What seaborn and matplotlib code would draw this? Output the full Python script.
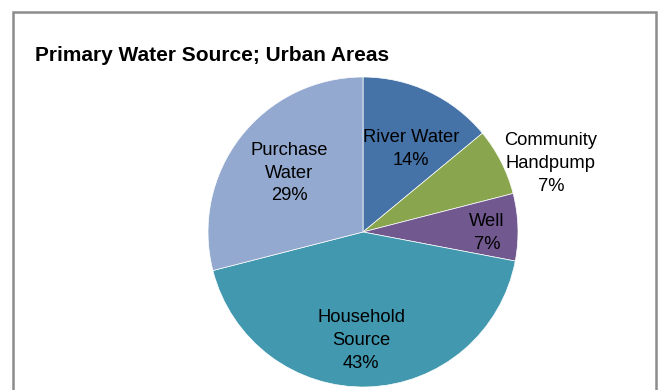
import matplotlib
matplotlib.use("Agg")
import matplotlib.pyplot as plt
import seaborn as sns
import numpy as np
from matplotlib.patches import Rectangle

sns.set_theme(style="white")
plt.rcParams['font.family'] = ['Liberation Sans', 'DejaVu Sans']

# Data
categories = ["River Water", "Community Handpump", "Well", "Household Source", "Purchase Water"]
label_text = ["River Water", "Community\nHandpump", "Well", "Household\nSource", "Purchase\nWater"]
values = [14, 7, 7, 43, 29]
colors = ["#4572A7", "#89A54E", "#71588F", "#4198AF", "#93A9CF"]

# label placement styles (radius fraction, angle tweak in degrees)
label_radius = [0.62, 1.29, 0.80, 0.70, 0.61]
label_angle_tweak = [-4.7, -6.9, -2.3, -2.8, -0.8]

W, H = 659, 390
fig = plt.figure(figsize=(W / 100, H / 100), dpi=100)
fig.patch.set_facecolor("white")

cx, cy, R = 363, 232, 155
pad = 1.01
ax = fig.add_axes([(cx - R * pad) / W, (H - cy - R * pad) / H, 2 * R * pad / W, 2 * R * pad / H])
wedges, _ = ax.pie(values, colors=colors, startangle=90, counterclock=False,
                   wedgeprops=dict(edgecolor="white", linewidth=0.5))
ax.set_xlim(-pad, pad)
ax.set_ylim(-pad, pad)
ax.set_aspect("equal")
ax.axis("off")

for w, txt, v, r, tw in zip(wedges, label_text, values, label_radius, label_angle_tweak):
    mid = np.deg2rad((w.theta1 + w.theta2) / 2 + tw)
    ax.text(r * np.cos(mid), r * np.sin(mid), f"{txt}\n{v}%", ha="center", va="center",
            fontsize=13.2, color="black", linespacing=1.45)

# Title
fig.text(35 / W, 1 - 61 / H, "Primary Water Source; Urban Areas", fontsize=15,
         fontweight="bold", color="black", ha="left", va="baseline")

# Frame
fig.patches.append(Rectangle((12.5 / W, -0.1), (655.5 - 12.5) / W, 1.1 - 12.5 / H,
                             transform=fig.transFigure, fill=False,
                             edgecolor="#8c8c8c", linewidth=1.8))

fig.savefig("out.png", dpi=100, facecolor="white")
